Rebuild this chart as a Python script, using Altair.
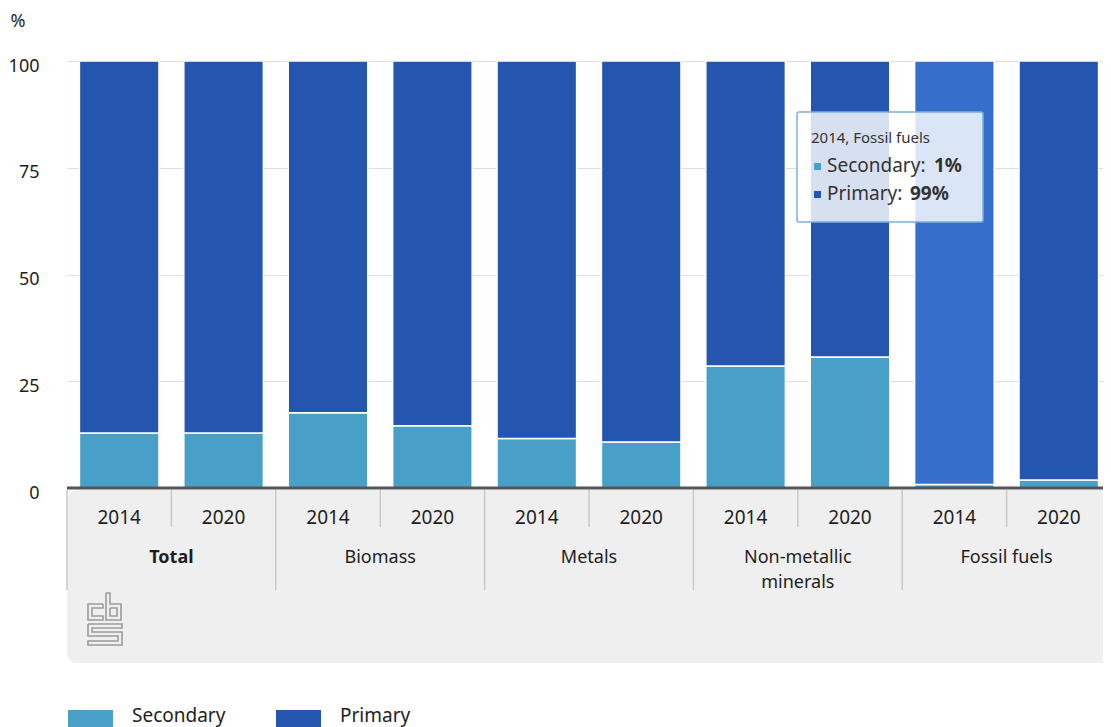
import altair as alt
import pandas as pd

# ---------------- data ----------------
categories = ["Total", "Biomass", "Metals", "Non-metallic\nminerals", "Fossil fuels"]
years = ["2014", "2020"]
secondary = [12.9, 12.9, 17.6, 14.6, 11.6, 10.8, 28.6, 30.7, 0.8, 1.9]
primary = [87.1, 87.1, 82.4, 85.4, 88.4, 89.2, 71.4, 69.3, 99.2, 98.1]
series = ["Secondary", "Primary"]
series_colors = ["#48a0c9", "#2456b0"]
highlight_color = "#366fcb"
highlight = ("Fossil fuels", "2014")
y_ticks = [0, 25, 50, 75, 100]

FONT = "Noto Sans"
TXT = "#1e1e1e"
W, H = 1044, 427
OX, OY = 67, 61  # page position of plot origin (for decoration drawing)

rows = []
labels = []
i = 0
for c in categories:
    for y in years:
        key = f"{c}|{y}"
        labels.append({"key": key, "year": y, "pos": i + 0.5})
        for s, vals in (("Secondary", secondary), ("Primary", primary)):
            hl = (c, y) == highlight
            rows.append({
                "key": key, "category": c, "year": y, "series": s,
                "value": vals[i], "ord": series.index(s),
                "ckey": (s + " hl") if (hl and s == "Primary") else s,
            })
        i += 1
df = pd.DataFrame(rows)
lab_df = pd.DataFrame(labels)
keys = [l["key"] for l in labels]

cat_df = pd.DataFrame({"category": categories,
                       "pos": [2 * g + 1 for g in range(len(categories))]})
sep_year = pd.DataFrame({"pos": [2 * g + 1 for g in range(len(categories))]})
sep_group = pd.DataFrame({"pos": [2 * g for g in range(len(categories))]})
one = pd.DataFrame({"a": [0]})

xq = alt.X("pos:Q", scale=alt.Scale(domain=[0, 10], nice=False, zero=False), axis=None)

# ---------------- bars ----------------
bars = alt.Chart(df).mark_bar(stroke="white", strokeWidth=1.5).encode(
    x=alt.X("key:N", sort=keys, axis=None,
            scale=alt.Scale(domain=keys, paddingInner=0.238, paddingOuter=0.119)),
    y=alt.Y("value:Q", stack="zero",
            scale=alt.Scale(domain=[0, 100], nice=False),
            axis=alt.Axis(values=y_ticks, grid=True, gridColor="#dddddd", gridWidth=1,
                          domain=False, ticks=False, labelPadding=28, labelOffset=5,
                          labelFontSize=18, labelColor=TXT, labelFont=FONT,
                          title="%", titleAngle=0, titleX=-57, titleY=-35,
                          titleAlign="left", titleBaseline="alphabetic",
                          titleFontWeight="normal", titleFontSize=18,
                          titleColor=TXT, titleFont=FONT)),
    color=alt.Color("ckey:N", legend=None,
                    scale=alt.Scale(domain=series + ["Primary hl"],
                                    range=series_colors + [highlight_color])),
    order=alt.Order("ord:Q"),
)

# ---------------- x axis panel ----------------
panel = alt.Chart(one).mark_rect(color="#efefef", cornerRadius=10).encode(
    x=alt.value(0), x2=alt.value(W + 30), y=alt.value(429), y2=alt.value(602))

axis_line = alt.Chart(one).mark_rule(color="#555555", strokeWidth=3).encode(
    x=alt.value(0), x2=alt.value(W + 10), y=alt.value(H))

year_sep = alt.Chart(sep_year).mark_rule(color="#c9c9c9", strokeWidth=1.5).encode(
    x=xq, y=alt.value(429), y2=alt.value(466))
group_sep = alt.Chart(sep_group).mark_rule(color="#c9c9c9", strokeWidth=1.5).encode(
    x=xq, y=alt.value(429), y2=alt.value(529))

year_text = alt.Chart(lab_df).mark_text(
    font=FONT, fontSize=19, color=TXT, align="center", baseline="alphabetic"
).encode(x=xq, y=alt.value(463), text="year:N")

cat_bold = alt.Chart(cat_df[cat_df.category == "Total"]).mark_text(
    font=FONT, fontSize=18, fontWeight="bold", color=TXT, align="center",
    baseline="alphabetic").encode(x=xq, y=alt.value(502), text="category:N")
cat_norm = alt.Chart(cat_df[cat_df.category != "Total"]).mark_text(
    font=FONT, fontSize=18, color=TXT, align="center", baseline="alphabetic",
    lineBreak="\n", lineHeight=25).encode(x=xq, y=alt.value(502), text="category:N")

# ---------------- cbs logo (outline drawing, page pixel coords) ----------------
logo_paths = {
    "c": [(103, 604), (88, 604), (88, 620), (103, 620), (103, 616), (92, 616),
          (92, 608), (103, 608), (103, 604)],
    "b": [(106, 593), (110, 593), (110, 604), (121, 604), (121, 620), (106, 620),
          (106, 593)],
    "bi": [(110, 608), (117, 608), (117, 616), (110, 616), (110, 608)],
    "s": [(88, 624), (122, 624), (122, 628), (92, 628), (92, 632), (122, 632),
          (122, 645), (88, 645), (88, 641), (118, 641), (118, 636), (88, 636),
          (88, 624)],
}
lp = []
for name, pts in logo_paths.items():
    for k, (px, py) in enumerate(pts):
        lp.append({"path": name, "k": k, "px": px, "py": py})
logo_df = pd.DataFrame(lp)
logo = alt.Chart(logo_df).mark_line(color="#9c9c9c", strokeWidth=1.6).encode(
    x=alt.X("px:Q", axis=None,
            scale=alt.Scale(domain=[OX, OX + W], range=[0, W], nice=False, zero=False)),
    y=alt.Y("py:Q", axis=None,
            scale=alt.Scale(domain=[OY, OY + H], range=[0, H], nice=False, zero=False)),
    detail="path:N", order="k:Q",
)

# ---------------- legend ----------------
legend_layers = []
leg_x = [1, 209]
for s, col, lx in zip(series, series_colors, leg_x):
    d = pd.DataFrame({"series": [s]})
    legend_layers.append(alt.Chart(d).mark_rect(color=col).encode(
        x=alt.value(lx), x2=alt.value(lx + 45), y=alt.value(649), y2=alt.value(675)))
    legend_layers.append(alt.Chart(d).mark_text(
        font=FONT, fontSize=19, color=TXT, align="left", baseline="alphabetic"
    ).encode(x=alt.value(lx + 64), y=alt.value(661), text="series:N"))

# ---------------- tooltip ----------------
hi = df[(df.category == highlight[0]) & (df.year == highlight[1])]
sec_v = float(hi[hi.series == "Secondary"].value.iloc[0])
pri_v = float(hi[hi.series == "Primary"].value.iloc[0])
tip_title = pd.DataFrame({"t": [f"{highlight[1]}, {highlight[0]}"]})
tip_rows = pd.DataFrame({
    "name": [f"{s}:" for s in series],
    "val": [f"{round(sec_v)}%", f"{round(pri_v)}%"],
})

tip_box = alt.Chart(one).mark_rect(
    fill="white", fillOpacity=0.82, stroke="#7ab0de", strokeWidth=1.5, cornerRadius=2
).encode(x=alt.value(730), x2=alt.value(916), y=alt.value(51), y2=alt.value(161))
tip_t = alt.Chart(tip_title).mark_text(
    font=FONT, fontSize=15, color="#333333", align="left", baseline="alphabetic"
).encode(x=alt.value(744), y=alt.value(82), text="t:N")

tip_layers = [tip_box, tip_t]
tip_y = [111, 139]
bold_x = [867, 843]
for k in range(2):
    r = tip_rows.iloc[[k]]
    tip_layers.append(alt.Chart(r).mark_rect(color=series_colors[k]).encode(
        x=alt.value(747), x2=alt.value(754), y=alt.value(tip_y[k] - 9),
        y2=alt.value(tip_y[k] - 2)))
    tip_layers.append(alt.Chart(r).mark_text(
        font=FONT, fontSize=19, color="#333333", align="left", baseline="alphabetic"
    ).encode(x=alt.value(760), y=alt.value(tip_y[k]), text="name:N"))
    tip_layers.append(alt.Chart(r).mark_text(
        font=FONT, fontSize=19, fontWeight="bold", color="#333333", align="left",
        baseline="alphabetic"
    ).encode(x=alt.value(bold_x[k]), y=alt.value(tip_y[k]), text="val:N"))

chart = alt.layer(
    panel, bars, axis_line, year_sep, group_sep, year_text, cat_bold, cat_norm, logo,
    *legend_layers, *tip_layers
).resolve_scale(x="independent", y="independent").properties(
    width=W, height=H,
    autosize=alt.AutoSizeParams(type="none"),
    padding={"left": 59, "top": 53, "right": -8, "bottom": 239},
    background="white",
).configure_view(stroke=None)

chart.save("out.html", embed_options={"renderer": "svg", "actions": False})
